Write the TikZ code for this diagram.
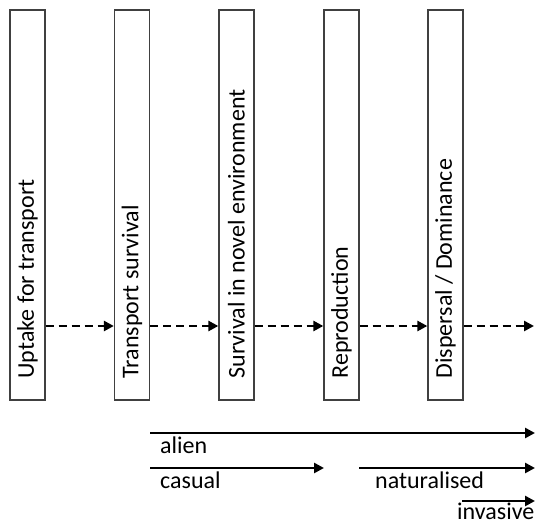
\documentclass[tikz,border=0pt]{standalone}
\usepackage{fontspec}
\setmainfont{Carlito}
\usetikzlibrary{arrows.meta,calc}
\begin{document}
\begin{tikzpicture}[x=1pt,y=-1pt,
  stagebox/.style={draw=black!75,line width=1.3pt,minimum width=35pt,minimum height=390pt,inner sep=0pt},
  stagetext/.style={rotate=90,anchor=west,inner sep=0pt,font=\fontsize{24}{28}\selectfont},
  dasharrow/.style={line width=2.8pt,dash pattern=on 8pt off 5pt,-{Triangle[length=10pt,width=10pt]}},
  solidarrow/.style={line width=2.5pt,-{Triangle[length=10pt,width=10pt]}},
  lbl/.style={anchor=base west,inner sep=0pt,font=\fontsize{24}{28}\selectfont}]
\useasboundingbox (0,0) rectangle (535,524);
\node[stagebox] (b1) at (27.5,205) {};
\node[stagebox] (b2) at (132,205) {};
\node[stagebox] (b3) at (236.5,205) {};
\node[stagebox] (b4) at (341.5,205) {};
\node[stagebox] (b5) at (445.5,205) {};
\node[stagetext] (t1) at ([yshift=22pt]b1.south) {Uptake for transport};
\node[stagetext] (t2) at ([yshift=22pt]b2.south) {Transport survival};
\node[stagetext] (t3) at ([yshift=22pt]b3.south) {Survival in novel environment};
\node[stagetext] (t4) at ([yshift=22pt]b4.south) {Reproduction};
\node[stagetext] (t5) at ([yshift=22pt]b5.south) {Dispersal / Dominance};
\coordinate (dend) at (534,326);
\draw[dasharrow] ([yshift=-121pt]b1.east) -- ([yshift=-121pt]b2.west);
\draw[dasharrow] ([yshift=-121pt]b2.east) -- ([yshift=-121pt]b3.west);
\draw[dasharrow] ([yshift=-121pt]b3.east) -- ([yshift=-121pt]b4.west);
\draw[dasharrow] ([yshift=-121pt]b4.east) -- ([yshift=-121pt]b5.west);
\draw[dasharrow] ([yshift=-121pt]b5.east) -- (dend);
\coordinate (aS) at (150,433);
\coordinate (aE) at (535,433);
\coordinate (cS) at (150,468);
\coordinate (cE) at (324,468);
\coordinate (nS) at (359,468);
\coordinate (nE) at (535,468);
\coordinate (iS) at (462,501);
\coordinate (iE) at (535,501);
\draw[solidarrow] (aS) -- (aE);
\draw[solidarrow] (cS) -- (cE);
\draw[solidarrow] (nS) -- (nE);
\draw[solidarrow] (iS) -- (iE);
\node[lbl] (la) at (160,453) {alien};
\node[lbl] (lc) at (160,488) {casual};
\node[lbl] (ln) at (375,488) {naturalised};
\node[lbl] (li) at (457,519) {invasive};
\end{tikzpicture}
\end{document}
